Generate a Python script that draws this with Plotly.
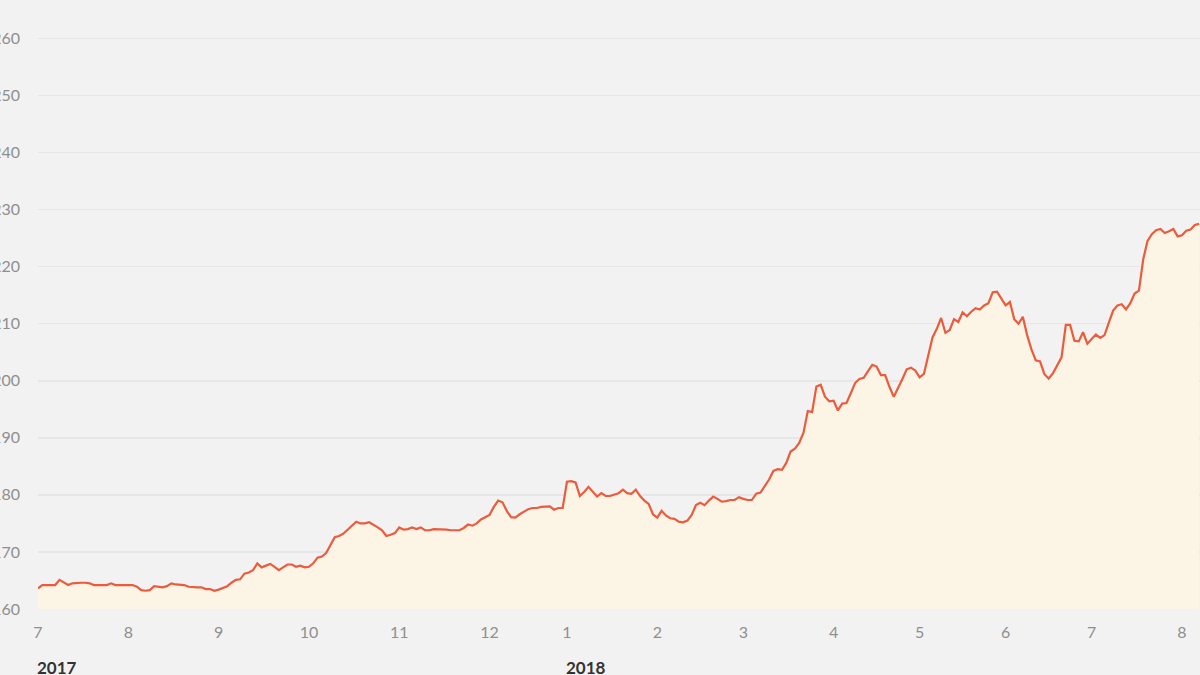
import plotly.graph_objects as go

# Daily closing values (trading days), Jul 2017 - Aug 2018
values = [
    163.6, 164.2, 164.2, 164.2, 164.2, 165.1, 164.7, 164.2, 164.5, 164.6,
    164.6, 164.6, 164.5, 164.2, 164.2, 164.2, 164.2, 164.5, 164.2, 164.2,
    164.2, 164.2, 164.2, 163.9, 163.3, 163.2, 163.3, 164.0, 163.9, 163.8,
    164.0, 164.5, 164.3, 164.2, 164.2, 163.9, 163.8, 163.8, 163.8, 163.5,
    163.5, 163.2, 163.4, 163.7, 164.0, 164.6, 165.1, 165.2, 166.2, 166.4,
    166.8, 168.0, 167.3, 167.6, 167.9, 167.4, 166.8, 167.3, 167.8, 167.8,
    167.4, 167.6, 167.3, 167.4, 168.0, 169.0, 169.2, 169.8, 171.2, 172.6,
    172.8, 173.2, 173.9, 174.6, 175.3, 175.0, 175.0, 175.2, 174.8, 174.3,
    173.8, 172.8, 173.0, 173.3, 174.3, 173.9, 174.0, 174.3, 174.0, 174.3,
    173.8, 173.8, 174.0, 174.0, 174.0, 173.9, 173.8, 173.8, 173.8, 174.2,
    174.8, 174.6, 175.0, 175.7, 176.1, 176.5, 177.9, 179.0, 178.7, 177.2,
    176.1, 176.0, 176.6, 177.0, 177.5, 177.7, 177.7, 177.9, 178.0, 178.0,
    177.4, 177.7, 177.7, 182.3, 182.4, 182.2, 179.8, 180.5, 181.4, 180.5,
    179.7, 180.3, 179.8, 179.8, 180.0, 180.3, 180.9, 180.3, 180.2, 180.9,
    179.8, 179.0, 178.4, 176.6, 176.0, 177.2, 176.4, 175.9, 175.8, 175.3,
    175.2, 175.5, 176.5, 178.2, 178.6, 178.2, 179.0, 179.7, 179.3, 178.8,
    178.9, 179.1, 179.1, 179.6, 179.3, 179.1, 179.1, 180.2, 180.4, 181.6,
    182.7, 184.2, 184.5, 184.4, 185.6, 187.6, 188.1, 189.1, 190.9, 194.7,
    194.5, 199.0, 199.3, 197.2, 196.4, 196.5, 194.8, 196.0, 196.1, 197.8,
    199.6, 200.3, 200.5, 201.7, 202.8, 202.5, 201.0, 201.0, 198.9, 197.2,
    198.7, 200.3, 202.0, 202.3, 201.8, 200.6, 201.2, 204.5, 207.6, 209.1,
    211.0, 208.4, 208.9, 210.8, 210.3, 212.0, 211.3, 212.1, 212.7, 212.5,
    213.2, 213.6, 215.5, 215.6, 214.5, 213.2, 213.8, 210.8, 210.0, 211.2,
    208.0, 205.5, 203.6, 203.4, 201.2, 200.4, 201.3, 202.7, 204.1, 209.8,
    209.8, 207.0, 206.9, 208.5, 206.5, 207.3, 208.1, 207.5, 208.0, 210.2,
    212.3, 213.2, 213.4, 212.5, 213.6, 215.3, 215.8, 221.3, 224.5, 225.7,
    226.4, 226.6, 225.9, 226.2, 226.6, 225.3, 225.5, 226.3, 226.5, 227.3,
    227.5,
]
day_index = list(range(len(values)))

# First trading day of each month (index) and its label
month_start_index = [0, 21, 42, 63, 84, 105, 123, 144, 164, 185, 205, 225, 245, 266]
month_labels = ["7", "8", "9", "10", "11", "12", "1", "2", "3", "4", "5", "6", "7", "8"]
year_labels = ["2017", "2018"]
year_start_index = [0, 123]

y_ticks = [160, 170, 180, 190, 200, 210, 220, 230, 240, 250, 260]

BG = "#f2f2f2"
LINE = "#ec5b3b"
FILL = "#fcf5e6"
FONT = "Lato, 'Open Sans', sans-serif"

fig = go.Figure()
fig.add_trace(go.Scatter(
    x=day_index, y=values, mode="lines",
    line=dict(color=LINE, width=2.2),
    fill="tozeroy", fillcolor=FILL,
    hoverinfo="skip", showlegend=False,
))

for xi, lab in zip(year_start_index, year_labels):
    fig.add_annotation(
        x=xi, y=0, xref="x", yref="paper", yanchor="top", xanchor="left",
        text=f"<b>{lab}</b>", showarrow=False, yshift=-46, xshift=-3,
        font=dict(family=FONT, size=17, color="#333333"),
    )

fig.update_layout(
    width=1200, height=675,
    margin=dict(l=38, r=0, t=27, b=66, pad=0),
    paper_bgcolor=BG, plot_bgcolor=BG,
    template="none",
    xaxis=dict(
        range=[0, 270.2], tickvals=month_start_index, ticktext=month_labels,
        showgrid=False, zeroline=False, showline=False, ticks="",
        ticklabelstandoff=12,
        tickfont=dict(family=FONT, size=16, color="#8f8f8f"),
        automargin=False,
    ),
    yaxis=dict(
        range=[160, 262], tickvals=y_ticks,
        showgrid=True, gridcolor="#e6e6e6", gridwidth=1.5,
        zeroline=False, showline=False, ticks="",
        ticklabelstandoff=17,
        tickfont=dict(family=FONT, size=16, color="#8f8f8f"),
        automargin=False,
    ),
)

fig.write_html(
    "out.html",
    config={"displayModeBar": False, "staticPlot": True},
    post_script="document.body.style.margin='0';document.body.style.overflow='hidden';",
)
